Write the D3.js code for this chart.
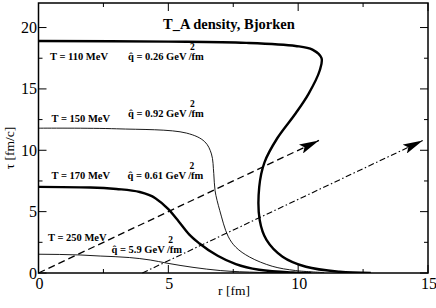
<!DOCTYPE html>
<html>
<head>
<meta charset="utf-8">
<script src="https://cdn.jsdelivr.net/npm/d3@7"></script>
<style>
  body { margin: 0; background: #fff; }
</style>
</head>
<body>
<script>
// curves: [r (fm), tau (fm/c)]
const curveT110 = [[0, 18.9], [5, 18.85], [8, 18.75], [9.9, 18.5], [10.55, 18.2], [10.9, 17.5],
  [10.83, 16.5], [10.4, 14.6], [9.9, 13.0], [9.2, 11.0], [8.7, 9.0], [8.5, 7.0], [8.52, 4.3],
  [8.78, 2.7], [9.4, 1.33], [10.3, 0.51], [11.6, 0.1], [12.8, 0.0]];
const curveT150 = [[0, 11.8], [3, 11.75], [5.7, 11.4], [6.4, 10.7], [6.66, 9.7], [6.75, 8.1],
  [6.8, 6.7], [6.98, 5.1], [7.3, 3.0], [7.6, 2.1], [8.13, 1.3], [9.0, 0.55], [9.9, 0.2], [11, 0.04]];
const curveT170 = [[0, 7.02], [2, 6.97], [3, 6.85], [3.9, 6.6], [4.5, 6.1], [5.0, 5.2],
  [5.4, 4.2], [5.8, 3.15], [6.2, 2.4], [6.9, 1.4], [7.6, 0.72], [8.5, 0.26], [9.8, 0.04], [10.5, 0]];
const curveT250 = [[0, 1.53], [1.6, 1.47], [2.4, 1.38], [3.5, 1.26], [4.3, 1.06], [4.95, 0.8],
  [5.95, 0.46], [7, 0.2], [8.5, 0.05], [10, 0]];

// arrows (start, end)
const lightCone = [[0, 0], [10.8, 10.8]];
const shiftedCone = [[4, 0], [14.8, 10.8]];

const xTicks = [0, 5, 10, 15];
const yTicks = [0, 5, 10, 15, 20];
const minorTicks = [2.5, 7.5, 12.5, 17.5];

const labels = [
  { T: "T = 110 MeV", q: "0.26", tx: 50, ty: 60, qx: 128, qy: 60 },
  { T: "T = 150 MeV", q: "0.92", tx: 51.5, ty: 121.5, qx: 128, qy: 117 },
  { T: "T = 170 MeV", q: "0.61", tx: 51.5, ty: 179, qx: 127.5, qy: 179 },
  { T: "T = 250 MeV", q: "5.9", tx: 48, ty: 240.5, qx: 111.5, qy: 253 }
];

const FONT = "Times New Roman";

//SVG setup
const W = 436, H = 308;
const margin = { top: 3, right: 8, bottom: 35, left: 38.5 };

const x = d3.scaleLinear().domain([0, 15]).range([margin.left, W - margin.right]);
const y = d3.scaleLinear().domain([0, 22]).range([H - margin.bottom, margin.top]);

const svg = d3.select("body").append("svg")
  .attr("width", W)
  .attr("height", H);

// arrow heads
const defs = svg.append("defs");
defs.append("marker")
  .attr("id", "arrow")
  .attr("viewBox", "0 0 20 10")
  .attr("refX", 20).attr("refY", 5)
  .attr("markerWidth", 20).attr("markerHeight", 10)
  .attr("markerUnits", "userSpaceOnUse")
  .attr("orient", "auto")
  .append("path")
  .attr("d", "M0,0 L20,5 L0,10 L4,5 Z")
  .attr("fill", "#000");

const smooth = d3.line()
  .x(d => x(d[0]))
  .y(d => y(d[1]))
  .curve(d3.curveCatmullRom.alpha(0.5));
const mono = d3.line()
  .x(d => x(d[0]))
  .y(d => y(d[1]))
  .curve(d3.curveMonotoneX);

// clip so nothing runs over the frame
defs.append("clipPath").attr("id", "clip")
  .append("rect")
  .attr("x", x(0)).attr("y", y(22))
  .attr("width", x(15) - x(0)).attr("height", y(0) - y(22));

const plot = svg.append("g").attr("clip-path", "url(#clip)");

[[curveT110, 2.4, smooth], [curveT150, 0.9, smooth], [curveT170, 2.4, mono], [curveT250, 0.9, mono]]
  .forEach(([pts, w, gen]) => {
    plot.append("path")
      .attr("d", gen(pts))
      .attr("fill", "none")
      .attr("stroke", "#000")
      .attr("stroke-width", w);
  });

const straight = d3.line().x(d => x(d[0])).y(d => y(d[1]));

svg.append("path")
  .attr("d", straight(lightCone))
  .attr("fill", "none")
  .attr("stroke", "#000")
  .attr("stroke-width", 1.3)
  .attr("stroke-dasharray", "7,4")
  .attr("marker-end", "url(#arrow)");

svg.append("path")
  .attr("d", straight(shiftedCone))
  .attr("fill", "none")
  .attr("stroke", "#000")
  .attr("stroke-width", 1.1)
  .attr("stroke-dasharray", "6,2.5,1.5,2.5")
  .attr("marker-end", "url(#arrow)");

// axes, ticks pointing inside on all four sides
function tickSet(vals, len, isX) {
  vals.forEach(v => {
    if (isX) {
      svg.append("line").attr("x1", x(v)).attr("x2", x(v)).attr("y1", y(0)).attr("y2", y(0) - len);
      svg.append("line").attr("x1", x(v)).attr("x2", x(v)).attr("y1", y(22)).attr("y2", y(22) + len);
    } else {
      svg.append("line").attr("y1", y(v)).attr("y2", y(v)).attr("x1", x(0)).attr("x2", x(0) + len);
      svg.append("line").attr("y1", y(v)).attr("y2", y(v)).attr("x1", x(15)).attr("x2", x(15) - len);
    }
  });
}
tickSet(xTicks, 8, true);
tickSet(minorTicks.filter(v => v < 15), 4, true);
tickSet(yTicks, 8, false);
tickSet(minorTicks, 4, false);
svg.selectAll("line").attr("stroke", "#000").attr("stroke-width", 1);

svg.append("rect")
  .attr("x", x(0)).attr("y", y(22))
  .attr("width", x(15) - x(0)).attr("height", y(0) - y(22))
  .attr("fill", "none")
  .attr("stroke", "#000")
  .attr("stroke-width", 1.5);

// tick labels
svg.selectAll(".xl").data(xTicks).enter().append("text")
  .attr("x", d => x(d) + 1)
  .attr("y", y(0) + 16)
  .attr("text-anchor", "middle")
  .attr("font-size", 16)
  .text(d => d);

svg.selectAll(".yl").data(yTicks).enter().append("text")
  .attr("x", x(0) - 1.5)
  .attr("y", d => y(d) + 5.5)
  .attr("text-anchor", "end")
  .attr("font-size", 16)
  .text(d => d);

// axis titles
svg.append("text")
  .attr("x", 234)
  .attr("y", 295)
  .attr("text-anchor", "middle")
  .attr("font-size", 13.5)
  .text("r [fm]");

svg.append("text")
  .attr("transform", "translate(14,148) rotate(-90)")
  .attr("text-anchor", "middle")
  .attr("font-size", 13.5)
  .text("τ [fm/c]");

// title
svg.append("text")
  .attr("x", 163)
  .attr("y", 28.5)
  .attr("font-size", 14.5)
  .attr("font-weight", "bold")
  .text("T_A density, Bjorken");

// curve labels
labels.forEach(l => {
  svg.append("text")
    .attr("x", l.tx).attr("y", l.ty)
    .attr("font-size", 10.5)
    .attr("font-weight", "bold")
    .text(l.T);
  const t = svg.append("text")
    .attr("x", l.qx).attr("y", l.qy)
    .attr("font-size", 10.5)
    .attr("font-weight", "bold");
  t.append("tspan").text("q\u0302 = " + l.q + " GeV ");
  t.append("tspan").attr("dy", -10).attr("dx", 1).attr("font-size", 9.5).text("2");
  t.append("tspan").attr("dy", 10).attr("dx", -6).text("/fm");
});

svg.selectAll("text").attr("font-family", FONT);
</script>
</body>
</html>
